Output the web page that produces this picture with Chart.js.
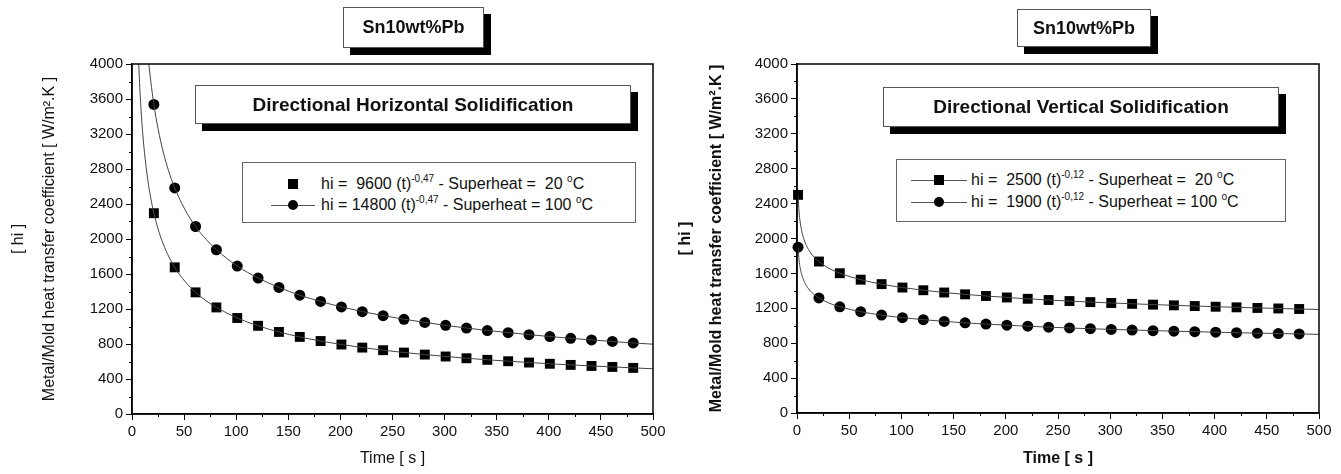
<!DOCTYPE html>
<html>
<head>
<meta charset="utf-8">
<script src="https://cdn.jsdelivr.net/npm/chart.js@4.4.1/dist/chart.umd.min.js"></script>
<style>
  body { margin: 0; background: #fff; font-family: "Liberation Sans", Arial, sans-serif; }
  #wrap { position: relative; width: 1341px; height: 474px; overflow: hidden; }
  canvas { position: absolute; top: 0; }
  .box { position: absolute; background: #fff; border: 1px solid #555; box-sizing: border-box;
         display: flex; align-items: center; justify-content: center; font-weight: bold; color: #111; }
  .shadow { box-shadow: 7px 7px 0 #000; }
  .legend { position: absolute; background: #fff; border: 1px solid #666; box-sizing: border-box; color: #111; }
  .row { position: absolute; left: 0; height: 20px; white-space: nowrap; font-size: 16px; line-height: 20px; }
  .row sup { font-size: 10px; vertical-align: 7px; line-height: 0; }
  .sym { position: absolute; top: 0; height: 20px; }
  .sym .ln { position: absolute; top: 10px; height: 1px; background: #555; }
  .sym .sq { position: absolute; top: 5px; width: 10px; height: 10px; background: #000; }
  .sym .ci { position: absolute; top: 5px; width: 10px; height: 10px; border-radius: 50%; background: #000; }
  .txt { position: absolute; top: 0; }
</style>
</head>
<body>
<div id="wrap">
  <canvas id="chartH" width="670" height="474" style="left:0"></canvas>
  <canvas id="chartV" width="671" height="474" style="left:670px"></canvas>

  <div class="box shadow" style="left:343px;top:7px;width:141px;height:41px;font-size:18px;">Sn10wt%Pb</div>
  <div class="box shadow" style="left:195px;top:85px;width:436px;height:39px;font-size:19px;">Directional Horizontal Solidification</div>
  <div class="legend" style="left:242px;top:162px;width:394px;height:61px;">
    <div class="row" style="top:11px;">
      <div class="sym" style="left:28px;width:44px;"><div class="sq" style="left:17px;"></div></div>
      <div class="txt" style="left:78px;">hi =&nbsp; 9600 (t)<sup>-0,47</sup> - Superheat =&nbsp; 20 <sup>o</sup>C</div>
    </div>
    <div class="row" style="top:32px;">
      <div class="sym" style="left:28px;width:44px;"><div class="ln" style="left:0;width:44px;"></div><div class="ci" style="left:17px;"></div></div>
      <div class="txt" style="left:78px;">hi = 14800 (t)<sup>-0,47</sup> - Superheat = 100 <sup>o</sup>C</div>
    </div>
  </div>

  <div class="box shadow" style="left:1017px;top:9px;width:134px;height:38px;font-size:18px;">Sn10wt%Pb</div>
  <div class="box shadow" style="left:883px;top:87px;width:396px;height:40px;font-size:19px;">Directional Vertical Solidification</div>
  <div class="legend" style="left:896px;top:159px;width:390px;height:63px;">
    <div class="row" style="top:10px;">
      <div class="sym" style="left:14px;width:56px;"><div class="ln" style="left:0;width:56px;"></div><div class="sq" style="left:23px;"></div></div>
      <div class="txt" style="left:74px;">hi =&nbsp; 2500 (t)<sup>-0,12</sup> - Superheat =&nbsp; 20 <sup>o</sup>C</div>
    </div>
    <div class="row" style="top:32px;">
      <div class="sym" style="left:14px;width:56px;"><div class="ln" style="left:0;width:56px;"></div><div class="ci" style="left:23px;"></div></div>
      <div class="txt" style="left:74px;">hi =&nbsp; 1900 (t)<sup>-0,12</sup> - Superheat = 100 <sup>o</sup>C</div>
    </div>
  </div>
</div>

<script>
// axis ranges
const X_MAX = 500, X_STEP = 50;
const Y_MAX = 4000, Y_STEP = 400;

const timeH = [21, 41, 61, 81, 101, 121, 141, 161, 181, 201, 221, 241, 261, 281, 301, 321, 341, 361, 381, 401, 421, 441, 461, 481];
const hiH20 = [2295, 1676, 1390, 1218, 1097, 1008, 938, 881, 834, 794, 759, 729, 702, 679, 657, 637, 619, 603, 588, 574, 561, 549, 538, 527];
const hiH100 = [3538, 2584, 2143, 1877, 1691, 1554, 1446, 1358, 1286, 1224, 1170, 1124, 1082, 1047, 1013, 982, 954, 930, 906, 885, 865, 846, 829, 812];

// Horizontal solidification - fitted curves
const fitTimeH20 = [5, 6, 8, 10, 12, 15, 18, 21, 25, 30, 35, 41, 51, 61, 71, 81, 101, 121, 141, 161, 181, 201, 241, 281, 321, 361, 401, 441, 481, 500];
const fitH20 = [4505, 4136, 3613, 3252, 2986, 2688, 2468, 2295, 2115, 1941, 1806, 1676, 1513, 1390, 1295, 1218, 1097, 1008, 938, 881, 834, 794, 729, 679, 637, 603, 574, 549, 527, 517];
const fitTimeH100 = [14, 15, 16, 18, 21, 25, 30, 35, 41, 51, 61, 71, 81, 101, 121, 141, 161, 181, 201, 241, 281, 321, 361, 401, 441, 481, 500];
const fitH100 = [4282, 4144, 4021, 3805, 3538, 3260, 2993, 2784, 2584, 2333, 2143, 1996, 1877, 1691, 1554, 1446, 1358, 1286, 1224, 1124, 1047, 982, 930, 885, 846, 812, 798];

// Vertical solidification - measured points
const timeV = [1, 21, 41, 61, 81, 101, 121, 141, 161, 181, 201, 221, 241, 261, 281, 301, 321, 341, 361, 381, 401, 421, 441, 461, 481];
const hiV20 = [2500, 1736, 1602, 1528, 1477, 1438, 1407, 1381, 1360, 1341, 1324, 1309, 1295, 1283, 1271, 1261, 1251, 1242, 1234, 1226, 1218, 1211, 1204, 1198, 1192];
const hiV100 = [1900, 1319, 1217, 1161, 1122, 1093, 1069, 1050, 1033, 1019, 1006, 995, 984, 975, 966, 958, 951, 944, 938, 932, 926, 920, 915, 910, 906];

// Vertical solidification - fitted curves
const fitTimeV = [1, 2, 3, 5, 8, 12, 16, 21, 30, 41, 61, 81, 101, 141, 181, 241, 301, 361, 421, 481, 500];
const fitV20 = [2500, 2302, 2191, 2061, 1948, 1855, 1792, 1736, 1662, 1602, 1528, 1477, 1438, 1381, 1341, 1295, 1261, 1234, 1211, 1192, 1186];
const fitV100 = [1900, 1750, 1665, 1566, 1480, 1410, 1362, 1319, 1263, 1217, 1161, 1122, 1093, 1050, 1019, 984, 958, 938, 920, 906, 901];

const zip = (xs, ys) => xs.map((x, i) => ({ x: x, y: ys[i] }));

// frame around the plot + short minor ticks between the labelled ones
const framePlugin = {
    id: 'frame',
    afterDraw(chart) {
        const { ctx, chartArea: a, scales } = chart;
        ctx.save();
        ctx.strokeStyle = '#000';
        ctx.lineWidth = 1.5;
        ctx.strokeRect(a.left, a.top, a.right - a.left, a.bottom - a.top);
        ctx.lineWidth = 1;
        ctx.beginPath();
        for (let v = X_STEP / 2; v < X_MAX; v += X_STEP) {
            const px = Math.round(scales.x.getPixelForValue(v)) + 0.5;
            ctx.moveTo(px, a.bottom);
            ctx.lineTo(px, a.bottom + 3);
        }
        for (let v = Y_STEP / 2; v < Y_MAX; v += Y_STEP) {
            const py = Math.round(scales.y.getPixelForValue(v)) + 0.5;
            ctx.moveTo(a.left, py);
            ctx.lineTo(a.left - 3, py);
        }
        ctx.stroke();
        ctx.restore();
    }
};

function makeChart(id, cfg) {
    const fontFamily = '"Liberation Sans", Arial, sans-serif';
    const titleWeight = cfg.boldTitles ? 'bold' : 'normal';
    const markers = (data, style, r) => ({
        data: data,
        showLine: false,
        pointStyle: style,
        pointRadius: r,
        pointHoverRadius: r,
        pointBackgroundColor: '#000',
        pointBorderColor: '#000',
        pointBorderWidth: 0,
        clip: false
    });
    const curve = (data) => ({
        data: data,
        showLine: true,
        pointRadius: 0,
        pointHoverRadius: 0,
        borderColor: '#444',
        borderWidth: 1,
        cubicInterpolationMode: 'monotone',
        fill: false
    });
    const plainNumber = (v) => String(v);

    return new Chart(document.getElementById(id), {
        type: 'scatter',
        data: {
            datasets: [
                curve(cfg.fit20),
                curve(cfg.fit100),
                markers(cfg.pts20, 'rect', 7),
                markers(cfg.pts100, 'circle', 5.5)
            ]
        },
        options: {
            responsive: false,
            animation: false,
            events: [],
            layout: { padding: { top: 64, right: cfg.padRight, left: 0, bottom: 0 } },
            plugins: { legend: { display: false }, tooltip: { enabled: false } },
            scales: {
                x: {
                    type: 'linear',
                    min: 0,
                    max: X_MAX,
                    ticks: { stepSize: X_STEP, callback: plainNumber, color: '#111', font: { family: fontFamily, size: 15 }, padding: 3, maxRotation: 0 },
                    grid: { drawOnChartArea: false, color: '#000', tickLength: 6, tickWidth: 1 },
                    border: { color: '#000', width: 1.5 },
                    title: {
                        display: true,
                        text: 'Time [ s ]',
                        color: '#111',
                        font: { family: fontFamily, size: 16, weight: titleWeight },
                        padding: { top: 0, bottom: 6 }
                    },
                    afterFit: (scale) => { scale.height = cfg.xHeight; }
                },
                y: {
                    type: 'linear',
                    min: 0,
                    max: Y_MAX,
                    ticks: { stepSize: Y_STEP, callback: plainNumber, color: '#111', font: { family: fontFamily, size: 15 }, padding: 3 },
                    grid: { drawOnChartArea: false, color: '#000', tickLength: 6, tickWidth: 1 },
                    border: { color: '#000', width: 1.5 },
                    title: {
                        display: true,
                        text: ['[ hi ]', 'Metal/Mold heat transfer coefficient [ W/m\u00B2.K ]'],
                        color: '#111',
                        font: { family: fontFamily, size: 16, weight: titleWeight, lineHeight: 1.95 },
                        padding: { top: cfg.yTitlePad, bottom: 0 }
                    },
                    afterFit: (scale) => { scale.width = cfg.yWidth; }
                }
            }
        },
        plugins: [framePlugin]
    });
}

makeChart('chartH', {
    pts20: zip(timeH, hiH20),
    pts100: zip(timeH, hiH100),
    fit20: zip(fitTimeH20, fitH20),
    fit100: zip(fitTimeH100, fitH100),
    boldTitles: false,
    padRight: 17,
    yWidth: 132,
    xHeight: 60,
    yTitlePad: 3
});

makeChart('chartV', {
    pts20: zip(timeV, hiV20),
    pts100: zip(timeV, hiV100),
    fit20: zip(fitTimeV, fitV20),
    fit100: zip(fitTimeV, fitV100),
    boldTitles: true,
    padRight: 22,
    yWidth: 127,
    xHeight: 61,
    yTitlePad: 0
});
</script>
</body>
</html>
